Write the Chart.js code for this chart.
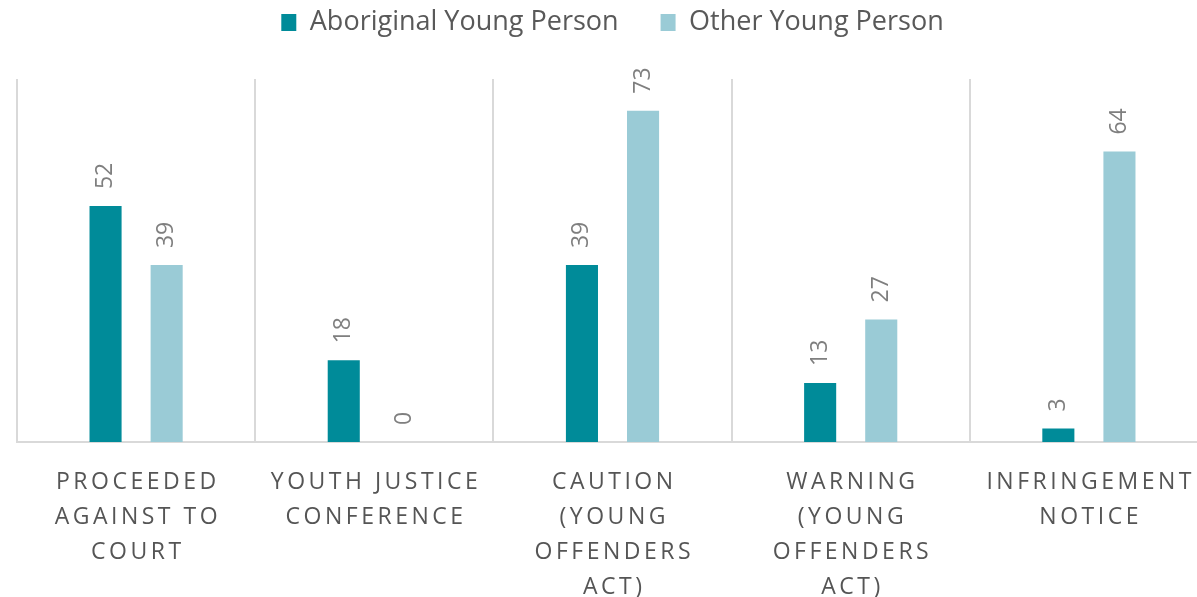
<!DOCTYPE html>
<html>
<head>
<meta charset="utf-8">
<script src="https://cdn.jsdelivr.net/npm/chart.js@4.4.1/dist/chart.umd.min.js"></script>
<style>
  html, body { margin: 0; padding: 0; background: #fff; overflow: hidden; }
  #wrap { width: 1212px; height: 597px; }
</style>
</head>
<body>
<div id="wrap"><canvas id="myChart"></canvas></div>
<script>
// categories (multi-line, as shown under each group)
var categories = [
    ['PROCEEDED', 'AGAINST TO', 'COURT'],
    ['YOUTH JUSTICE', 'CONFERENCE'],
    ['CAUTION', '(YOUNG', 'OFFENDERS', 'ACT)'],
    ['WARNING', '(YOUNG', 'OFFENDERS', 'ACT)'],
    ['INFRINGEMENT', 'NOTICE']
];
var seriesNames = ['Aboriginal Young Person', 'Other Young Person'];
var aboriginalValues = [52, 18, 39, 13, 3];
var otherValues = [39, 0, 73, 27, 64];

var FONT = "'Open Sans', 'DejaVu Sans', sans-serif";

// rotated value labels above each bar
var valueLabels = {
    id: 'valueLabels',
    afterDatasetsDraw: function(chart) {
        var ctx = chart.ctx;
        ctx.save();
        ctx.font = '23px ' + FONT;
        ctx.fillStyle = '#7f7f7f';
        ctx.textAlign = 'left';
        ctx.textBaseline = 'middle';
        chart.data.datasets.forEach(function(ds, di) {
            chart.getDatasetMeta(di).data.forEach(function(bar, i) {
                ctx.save();
                ctx.translate(bar.x, bar.y - 17);
                ctx.rotate(-Math.PI / 2);
                ctx.fillText(String(ds.data[i]), 0, 0);
                ctx.restore();
            });
        });
        ctx.restore();
    }
};

// letter-spaced category labels under the x axis
var spacedTicks = {
    id: 'spacedTicks',
    afterDraw: function(chart) {
        var ctx = chart.ctx;
        var xs = chart.scales.x;
        var spacing = 3.5;
        ctx.save();
        ctx.font = '23px ' + FONT;
        ctx.letterSpacing = spacing + 'px';
        ctx.fillStyle = '#555555';
        ctx.textAlign = 'center';
        ctx.textBaseline = 'alphabetic';
        categories.forEach(function(lines, i) {
            var x = xs.getPixelForValue(i) + spacing / 2;
            lines.forEach(function(line, j) {
                ctx.fillText(line, x, xs.bottom + 47 + j * 35);
            });
        });
        ctx.restore();
    }
};

// pull the legend row up into the top margin
var legendShift = {
    id: 'legendShift',
    afterLayout: function(chart) {
        chart.legend.top -= 33;
    }
};

new Chart('myChart', {
    type: 'bar',
    data: {
        labels: categories,
        datasets: [{
            label: seriesNames[0],
            data: aboriginalValues,
            backgroundColor: '#008b99',
            categoryPercentage: 0.513,
            barPercentage: 0.525
        }, {
            label: seriesNames[1],
            data: otherValues,
            backgroundColor: '#9acbd6',
            categoryPercentage: 0.513,
            barPercentage: 0.525
        }]
    },
    options: {
        responsive: true,
        maintainAspectRatio: false,
        animation: false,
        layout: { padding: { left: 17, right: 4, top: 0, bottom: 155 } },
        plugins: {
            legend: {
                display: true,
                position: 'top',
                labels: {
                    font: { family: FONT, size: 27 },
                    color: '#595959',
                    boxWidth: 15,
                    boxHeight: 17,
                    padding: 42
                }
            },
            tooltip: { enabled: false }
        },
        scales: {
            x: {
                grid: { display: true, color: '#d9d9d9', lineWidth: 2, drawTicks: false, offset: true },
                border: { display: true, color: '#d9d9d9', width: 2 },
                ticks: { display: false }
            },
            y: {
                display: false,
                min: 0,
                max: 80
            }
        }
    },
    plugins: [valueLabels, spacedTicks, legendShift]
});
</script>
</body>
</html>
